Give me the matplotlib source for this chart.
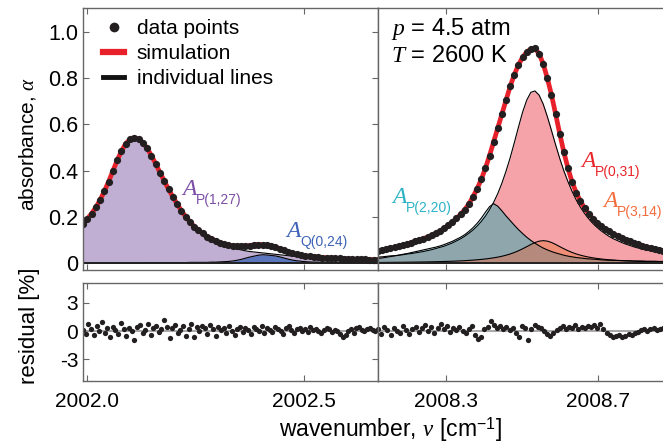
"""Absorbance spectra at 4.5 atm / 2600 K with line-by-line fit and residuals."""

import matplotlib

matplotlib.use("Agg")
import matplotlib.pyplot as plt  # noqa: E402
import numpy as np

plt.rcParams["font.family"] = ["Liberation Sans", "DejaVu Sans"]
plt.rcParams["mathtext.fontset"] = "custom"
plt.rcParams["mathtext.it"] = "Liberation Serif:italic"
plt.rcParams["mathtext.rm"] = "Liberation Sans"

# ---- left window (cm-1) ----
left_range = (2001.99, 2002.672)
left_data = [
    0.170, 0.191, 0.214, 0.241, 0.273, 0.311, 0.353, 0.399, 0.445, 0.485,
    0.517, 0.536, 0.543, 0.537, 0.521, 0.497, 0.465, 0.430, 0.392, 0.356,
    0.320, 0.287, 0.256, 0.227, 0.201, 0.179, 0.158, 0.142, 0.128, 0.114,
    0.106, 0.097, 0.088, 0.083, 0.078, 0.075, 0.073, 0.073, 0.074, 0.076,
    0.078, 0.080, 0.080, 0.077, 0.073, 0.069, 0.063, 0.056, 0.049, 0.043,
    0.038, 0.034, 0.031, 0.029, 0.027, 0.026, 0.024, 0.023, 0.022, 0.021,
    0.020, 0.019, 0.018, 0.017, 0.017, 0.016, 0.016, 0.015, 0.015, 0.014,
]
line_p127 = [
    0.169, 0.190, 0.213, 0.240, 0.272, 0.310, 0.352, 0.398, 0.444, 0.484,
    0.516, 0.535, 0.542, 0.536, 0.520, 0.495, 0.463, 0.428, 0.390, 0.354,
    0.318, 0.285, 0.254, 0.225, 0.199, 0.176, 0.155, 0.139, 0.125, 0.111,
    0.102, 0.093, 0.083, 0.077, 0.071, 0.066, 0.061, 0.057, 0.053, 0.050,
    0.048, 0.046, 0.044, 0.042, 0.040, 0.038, 0.036, 0.034, 0.032, 0.030,
    0.028, 0.026, 0.025, 0.024, 0.023, 0.022, 0.021, 0.020, 0.019, 0.018,
    0.017, 0.017, 0.016, 0.015, 0.015, 0.014, 0.014, 0.013, 0.013, 0.012,
]
line_q024 = [
    0.001, 0.001, 0.001, 0.001, 0.001, 0.001, 0.001, 0.001, 0.001, 0.001,
    0.001, 0.001, 0.001, 0.001, 0.001, 0.002, 0.002, 0.002, 0.002, 0.002,
    0.002, 0.002, 0.002, 0.002, 0.002, 0.003, 0.003, 0.003, 0.003, 0.003,
    0.004, 0.004, 0.005, 0.006, 0.007, 0.009, 0.012, 0.016, 0.021, 0.026,
    0.030, 0.034, 0.036, 0.035, 0.033, 0.031, 0.027, 0.022, 0.017, 0.013,
    0.010, 0.008, 0.006, 0.005, 0.004, 0.004, 0.003, 0.003, 0.003, 0.003,
    0.003, 0.002, 0.002, 0.002, 0.002, 0.002, 0.002, 0.002, 0.002, 0.002,
]

# ---- right window (cm-1) ----
right_range = (2008.12, 2008.87)
right_data = [
    0.053, 0.056, 0.060, 0.064, 0.068, 0.072, 0.077, 0.082, 0.088, 0.094,
    0.100, 0.106, 0.112, 0.120, 0.128, 0.138, 0.150, 0.163, 0.177, 0.193,
    0.211, 0.231, 0.256, 0.287, 0.322, 0.362, 0.410, 0.465, 0.525, 0.585,
    0.645, 0.705, 0.765, 0.815, 0.858, 0.890, 0.913, 0.927, 0.929, 0.906,
    0.862, 0.800, 0.728, 0.645, 0.560, 0.480, 0.410, 0.350, 0.305, 0.268,
    0.238, 0.213, 0.192, 0.175, 0.160, 0.148, 0.137, 0.127, 0.118, 0.110,
    0.102, 0.095, 0.088, 0.081, 0.075, 0.070, 0.065, 0.061, 0.057, 0.053,
]
line_p031 = [
    0.026, 0.027, 0.029, 0.031, 0.032, 0.034, 0.036, 0.039, 0.041, 0.044,
    0.047, 0.050, 0.054, 0.058, 0.063, 0.068, 0.073, 0.080, 0.087, 0.096,
    0.105, 0.116, 0.129, 0.143, 0.160, 0.180, 0.203, 0.231, 0.263, 0.301,
    0.346, 0.398, 0.456, 0.521, 0.588, 0.653, 0.705, 0.739, 0.745, 0.727,
    0.688, 0.634, 0.574, 0.512, 0.453, 0.399, 0.352, 0.310, 0.273, 0.242,
    0.215, 0.192, 0.172, 0.155, 0.140, 0.127, 0.115, 0.105, 0.097, 0.089,
    0.082, 0.076, 0.070, 0.065, 0.061, 0.057, 0.053, 0.050, 0.047, 0.044,
]
line_p220 = [
    0.020, 0.022, 0.025, 0.028, 0.031, 0.034, 0.038, 0.041, 0.045, 0.049,
    0.053, 0.057, 0.061, 0.065, 0.069, 0.074, 0.080, 0.087, 0.094, 0.103,
    0.112, 0.123, 0.137, 0.153, 0.172, 0.194, 0.220, 0.244, 0.257, 0.246,
    0.226, 0.204, 0.184, 0.164, 0.145, 0.128, 0.112, 0.098, 0.086, 0.075,
    0.065, 0.057, 0.050, 0.044, 0.039, 0.034, 0.030, 0.027, 0.024, 0.022,
    0.020, 0.018, 0.017, 0.016, 0.014, 0.013, 0.012, 0.012, 0.011, 0.011,
    0.010, 0.010, 0.009, 0.009, 0.009, 0.008, 0.008, 0.008, 0.007, 0.007,
]
line_p314 = [
    0.0026, 0.0027, 0.0029, 0.0030, 0.0032, 0.0033, 0.0035, 0.0037, 0.0040, 0.0042,
    0.0045, 0.0048, 0.0051, 0.0055, 0.0059, 0.0063, 0.0068, 0.0074, 0.0080, 0.0088,
    0.0096, 0.0105, 0.0116, 0.0128, 0.0142, 0.0158, 0.0177, 0.0200, 0.0226, 0.0257,
    0.0295, 0.0340, 0.0393, 0.0457, 0.0531, 0.0617, 0.0709, 0.0803, 0.0888, 0.0948,
    0.0970, 0.0949, 0.0891, 0.0807, 0.0712, 0.0619, 0.0534, 0.0459, 0.0395, 0.0342,
    0.0297, 0.0259, 0.0227, 0.0200, 0.0178, 0.0158, 0.0142, 0.0128, 0.0116, 0.0105,
    0.0096, 0.0088, 0.0081, 0.0074, 0.0069, 0.0064, 0.0059, 0.0055, 0.0051, 0.0048,
]

# ---- residuals [%] ----
res_left = [
    0.1, -0.3, 0.8, 0.2, -0.4, 0.5, 0.0, 1.0, -0.2, 0.3, -0.6, 0.4, 0.1, -0.3,
    0.9, 0.2, -0.5, 0.3, 0.0, -1.0, 0.4, 0.6, -0.2, 0.1, 0.7, -0.4, 0.3, 0.5,
    -0.1, 0.2, 1.2, 0.4, -0.7, 0.3, 0.6, -0.2, 0.1, 0.5, -0.5, 0.2, 0.7, -0.6,
    0.4, 0.0, 0.5, 0.3, -0.3, 0.6, 0.2, -0.5, 0.4, 0.1, 0.3, -0.2, 0.5, 0.0,
    -0.4, 0.2, 0.4, -0.1, 0.3, 0.1, -0.3, 0.4, 0.2, 0.0, 0.5, -0.2, 0.3, 0.1,
    -0.1, 0.4, 0.2, 0.0, -0.3, 0.3, 0.5, 0.1, -0.2, 0.2, 0.3, 0.0, 0.2, -0.1,
    0.4, 0.1, 0.2, 0.0, -0.2, 0.1, 0.3, 0.2, -0.1, 0.1, 0.0, -0.3, -0.6, -0.4,
    0.0, 0.2, -0.2, 0.3, 0.4, 0.1, 0.0, 0.2, 0.3, 0.1, 0.0, 0.2,
]
res_right = [
    0.2, -0.3, 0.4, 0.1, -0.4, 0.3, 0.0, -0.2, 0.5, 0.1, -0.3, 0.2, 0.4, -0.1,
    0.3, 0.6, 0.0, 0.4, -0.2, 0.3, 0.7, 0.2, 0.5, -0.1, 0.3, 0.1, 0.4, 0.0,
    -0.2, 0.2, 0.5, -0.4, -0.8, -0.6, 0.2, 0.4, 1.1, 0.6, 0.3, 0.5, 0.2, 0.4,
    0.1, 0.3, -0.2, -0.6, 0.5, 0.3, -0.9, 0.2, 0.6, 0.4, 0.3, 0.0, -0.3, -0.5,
    -0.2, 0.1, 0.3, 0.5, 0.2, 0.4, 0.3, 0.6, 0.2, 0.4, 0.3, 0.5, 0.4, 0.6,
    0.3, 0.7, 0.2, -0.2, -0.4, -0.6, -0.5, -0.4, -0.6, -0.5, -0.3, -0.4, -0.2,
    -0.1, 0.1, 0.2, 0.0, 0.2, 0.3, 0.1, 0.2, 0.3,
]

left_ticks = [2002.0, 2002.5]
right_ticks = [2008.3, 2008.7]
abs_ticks = [0, 0.2, 0.4, 0.6, 0.8, 1.0]
abs_labels = ["0", "0.2", "0.4", "0.6", "0.8", "1.0"]
res_ticks = [-3, 0, 3]

DOT = "#231f20"
RED = "#e8202a"
SPINE = "#666666"


def grid(rng, vals):
    return np.linspace(rng[0], rng[1], len(vals))


def style(ax, xticks, xlim, ylim, top=True):
    ax.set_xlim(*xlim)
    ax.set_ylim(*ylim)
    ax.set_xticks(xticks)
    for s in ax.spines.values():
        s.set_color(SPINE)
        s.set_linewidth(1.0)
    ax.tick_params(direction="in", length=4, width=0.8, color=SPINE, top=top)


def line_label(ax, x, y, name, color):
    ax.text(x, y, "A", fontsize=17, color=color, family="Liberation Serif",
            style="italic", ha="left", va="baseline")
    ax.annotate(name, xy=(x, y), xytext=(10.0, -6.5), textcoords="offset points",
                fontsize=10, color=color, ha="left", va="baseline")


fig = plt.figure(figsize=(6.63, 4.43), dpi=100)
W, H = 663, 443
x_l0, x_mid, x_r1 = 83 / W, 378 / W, 1.0
top_b, top_t = 1 - 270 / H, 1 - 8 / H
res_b, res_t = 1 - 381 / H, 1 - 283 / H

ax_l = fig.add_axes([x_l0, top_b, x_mid - x_l0, top_t - top_b])
ax_r = fig.add_axes([x_mid, top_b, x_r1 - x_mid, top_t - top_b])
rx_l = fig.add_axes([x_l0, res_b, x_mid - x_l0, res_t - res_b])
rx_r = fig.add_axes([x_mid, res_b, x_r1 - x_mid, res_t - res_b])

abs_ylim = (-0.03, 1.104)
res_ylim = (-5.3, 5.1)

# ---- left absorbance panel ----
xl = grid(left_range, left_data)
p127 = np.array(line_p127)
q024 = np.array(line_q024)
ax_l.fill_between(xl, 0, p127, color="#c1afd3", lw=0)
ax_l.fill_between(xl, 0, q024, color="#5b76bd", lw=0)
ax_l.plot(xl, p127, color="k", lw=0.8)
ax_l.plot(xl, q024, color="k", lw=0.8)
ax_l.axhline(0, color="#222222", lw=1.4)
ax_l.plot(xl, p127 + q024, color=RED, lw=3.4, solid_capstyle="butt")
ax_l.plot(xl, left_data, "o", ms=5.2, color=DOT, mec="none")
style(ax_l, left_ticks, left_range, abs_ylim)
ax_l.set_yticks(abs_ticks)
ax_l.set_yticklabels(abs_labels, fontsize=15.5)
ax_l.tick_params(right=True)
ax_l.set_xticklabels([])
line_label(ax_l, 2002.219, 0.294, "P(1,27)", "#7c4ea6")
line_label(ax_l, 2002.460, 0.114, "Q(0,24)", "#3c63b5")

# legend proxies
h_dot, = ax_l.plot([], [], "o", ms=7, color=DOT, mec="none")
h_sim, = ax_l.plot([], [], color=RED, lw=4.5)
h_ind, = ax_l.plot([], [], color="#111111", lw=3.5)
ax_l.legend([h_dot, h_sim, h_ind], ["data points", "simulation", "individual lines"],
            loc="upper left", bbox_to_anchor=(0.03, 1.0), frameon=False,
            fontsize=15, handlelength=1.0, handletextpad=0.6,
            labelspacing=0.28, borderpad=0.55, borderaxespad=0, numpoints=1)

# ---- right absorbance panel ----
xr = grid(right_range, right_data)
p031 = np.array(line_p031)
p220 = np.array(line_p220)
p314 = np.array(line_p314)
ax_r.fill_between(xr, 0, p031, color="#f5a3a9", lw=0)
ax_r.fill_between(xr, 0, p220, color="#a9e1ea", lw=0)
ax_r.fill_between(xr, 0, np.minimum(p031, p220), color="#8fa6ac", lw=0)
ax_r.fill_between(xr, 0, p314, color="#ef8f78", lw=0)
ax_r.fill_between(xr, 0, np.minimum(p314, p220), color="#b58a7c", lw=0)
for comp in (p031, p220, p314):
    ax_r.plot(xr, comp, color="k", lw=0.8)
ax_r.axhline(0, color="#222222", lw=1.4)
ax_r.plot(xr, right_data, color=RED, lw=3.4)
ax_r.plot(xr, right_data, "o", ms=5.2, color=DOT, mec="none")
style(ax_r, right_ticks, right_range, abs_ylim)
ax_r.spines["right"].set_visible(False)
ax_r.tick_params(left=False, labelleft=False)
ax_r.set_xticklabels([])
ax_r.text(2008.155, 0.987, r"$p$ = 4.5 atm", fontsize=17, ha="left", va="baseline")
ax_r.text(2008.155, 0.870, r"$T$ = 2600 K", fontsize=17, ha="left", va="baseline")
line_label(ax_r, 2008.157, 0.258, "P(2,20)", "#2cb3c6")
line_label(ax_r, 2008.655, 0.417, "P(0,31)", "#e8252a")
line_label(ax_r, 2008.712, 0.244, "P(3,14)", "#f26c3c")

# ---- residual panels ----
for rx, rng, res, ticks in ((rx_l, left_range, res_left, left_ticks),
                            (rx_r, right_range, res_right, right_ticks)):
    xs = grid(rng, res)
    rx.axhline(0, color="#9a9a9a", lw=1.2)
    rx.plot(xs, res, "o", ms=3.8, color=DOT, mec="none")
    style(rx, ticks, rng, res_ylim)
    rx.set_xticklabels([f"{t:.1f}" for t in ticks], fontsize=15)

rx_l.set_yticks(res_ticks)
rx_l.set_yticklabels([str(t) for t in res_ticks], fontsize=15)
rx_l.tick_params(right=True)
rx_r.spines["right"].set_visible(False)
rx_r.tick_params(left=False, labelleft=False)
for rx in (rx_l, rx_r):
    rx.tick_params(axis="x", pad=8)

fig.text(27 / W, 1 - 144 / H, r"absorbance, $\alpha$", rotation=90,
         fontsize=15, ha="center", va="center")
fig.text(30 / W, 1 - 326 / H, "residual [%]", rotation=90,
         fontsize=16, ha="center", va="center")
fig.text(390 / W, 1 - 437 / H, r"wavenumber, $\nu$ [cm$^{\mathregular{-1}}$]",
         fontsize=16.5, ha="center", va="baseline")

fig.savefig("out.png", dpi=100)
plt.close(fig)
